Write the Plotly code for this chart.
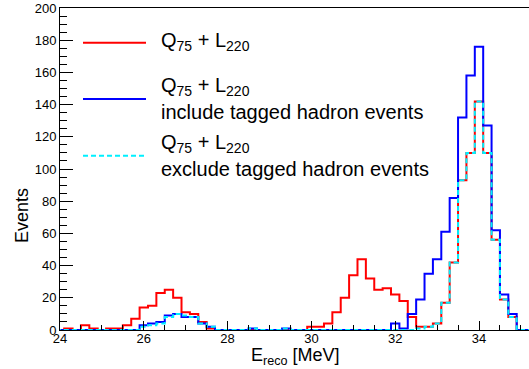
import plotly.graph_objects as go

# Histogram binning: 0.2 MeV bins, first bin centred on 24.0 MeV
FIRST_CENTER = 24.0
BIN_WIDTH = 0.2

# Events per bin, Q75 + L220
q75_l220 = [0, 1, 0, 3, 1, 0, 1, 1, 3, 7,
            14, 15, 23, 25, 20, 11, 10, 5, 1, 0,
            0, 0, 0, 0, 0, 0, 0, 0, 0, 0,
            2, 2, 4, 11, 20, 34, 44, 32, 25, 26,
            22, 18, 8, 2, 2, 4, 17, 42, 93, 110,
            142, 110, 56, 19, 8, 0, 0]

# Events per bin, Q75 + L220 including tagged hadron events
q75_l220_incl = [0, 0, 0, 0, 0, 0, 0, 0, 0, 0,
                 3, 4, 5, 9, 10, 8, 8, 4, 2, 0,
                 0, 0, 0, 1, 0, 0, 0, 1, 0, 0,
                 0, 0, 0, 0, 0, 0, 0, 0, 0, 0,
                 4, 1, 10, 19, 35, 44, 61, 82, 132, 158,
                 176, 127, 62, 22, 10, 0, 0]

# Events per bin, Q75 + L220 excluding tagged hadron events
q75_l220_excl = [0, 0, 0, 0, 0, 0, 0, 0, 0, 0,
                 2, 3, 4, 8, 10, 9, 8, 4, 2, 0,
                 0, 0, 0, 1, 0, 0, 0, 1, 0, 0,
                 0, 0, 0, 0, 0, 0, 0, 0, 0, 0,
                 0, 0, 0, 1, 2, 4, 17, 42, 93, 110,
                 142, 110, 56, 19, 8, 0, 0]

x_ticks = [24, 26, 28, 30, 32, 34]
y_ticks = [0, 20, 40, 60, 80, 100, 120, 140, 160, 180, 200]

FONT = "Liberation Sans, Arial, Helvetica, sans-serif"
RED, BLUE, CYAN = "#ff0000", "#0000ff", "#00f0ff"


def step_xy(values):
    """Outline of a histogram: left edges plus the final right edge."""
    n = len(values)
    edges = [FIRST_CENTER - BIN_WIDTH / 2 + BIN_WIDTH * i for i in range(n + 1)]
    return edges, list(values) + [values[-1]]


fig = go.Figure()

series = [
    (q75_l220, RED, "solid"),
    (q75_l220_incl, BLUE, "solid"),
    (q75_l220_excl, CYAN, "5px,3px"),
]
for vals, color, dash in series:
    xs, ys = step_xy(vals)
    fig.add_trace(go.Scatter(
        x=xs, y=ys, mode="lines", line_shape="hv",
        line=dict(color=color, width=2, dash=dash),
        showlegend=False, hoverinfo="skip",
    ))

# Plot area geometry (pixels) used for placing the legend and titles
W, H = 529, 369
L, R, T, B = 60, 0, 8, 39
pw, ph = W - L - R, H - T - B


def px(x):
    return (x - L) / pw


def py(y):
    return (H - B - y) / ph


# Hand-built legend: long line samples with two-line labels
legend_rows = [
    (RED, "solid", 42.7, [("Q<sub>75</sub> + L<sub>220</sub>", 41)]),
    (BLUE, "solid", 99, [("Q<sub>75</sub> + L<sub>220</sub>", 87),
                         ("include tagged hadron events", 112)]),
    (CYAN, "5px,3px", 155.7, [("Q<sub>75</sub> + L<sub>220</sub>", 143),
                              ("exclude tagged hadron events", 169)]),
]
annotations = []
shapes = []
for color, dash, ly, labels in legend_rows:
    shapes.append(dict(
        type="line", xref="paper", yref="paper",
        x0=px(83), x1=px(146), y0=py(ly), y1=py(ly),
        line=dict(color=color, width=2, dash=dash),
    ))
    for text, ty in labels:
        annotations.append(dict(
            text=text, xref="paper", yref="paper", x=px(159), y=py(ty),
            xanchor="left", yanchor="middle", showarrow=False,
            font=dict(family=FONT, size=20, color="black"),
        ))

# Axis titles
annotations.append(dict(
    text="E<sub>reco</sub> [MeV]", xref="paper", yref="paper",
    x=px(295), y=py(356), xanchor="center", yanchor="middle",
    showarrow=False, font=dict(family=FONT, size=18, color="black"),
))
annotations.append(dict(
    text="Events", xref="paper", yref="paper",
    x=px(22), y=py(216), xanchor="center", yanchor="middle", textangle=-90,
    showarrow=False, font=dict(family=FONT, size=18, color="black"),
))

fig.update_layout(
    width=W, height=H,
    margin=dict(l=L, r=R, t=T, b=B, pad=0),
    paper_bgcolor="white", plot_bgcolor="white",
    font=dict(family=FONT, color="black"),
    annotations=annotations, shapes=shapes,
    xaxis=dict(
        range=[24, 24 + pw / 41.9],
        tickvals=x_ticks, ticktext=[str(v) for v in x_ticks],
        ticks="inside", ticklen=9, tickwidth=1, tickcolor="black",
        ticklabelstandoff=-4,
        minor=dict(dtick=0.5, tick0=24, ticks="inside", ticklen=5,
                   tickwidth=1, tickcolor="black"),
        showline=True, linecolor="black", linewidth=1, mirror=True,
        showgrid=False, zeroline=False,
        tickfont=dict(family=FONT, size=13, color="black"),
    ),
    yaxis=dict(
        range=[0, 200],
        tickvals=y_ticks, ticktext=[str(v) for v in y_ticks],
        ticks="inside", ticklen=13, tickwidth=1, tickcolor="black",
        minor=dict(dtick=5, tick0=0, ticks="inside", ticklen=7,
                   tickwidth=1, tickcolor="black"),
        showline=True, linecolor="black", linewidth=1, mirror=False,
        showgrid=False, zeroline=False,
        tickfont=dict(family=FONT, size=13, color="black"),
    ),
)

fig.write_html("out.html")
